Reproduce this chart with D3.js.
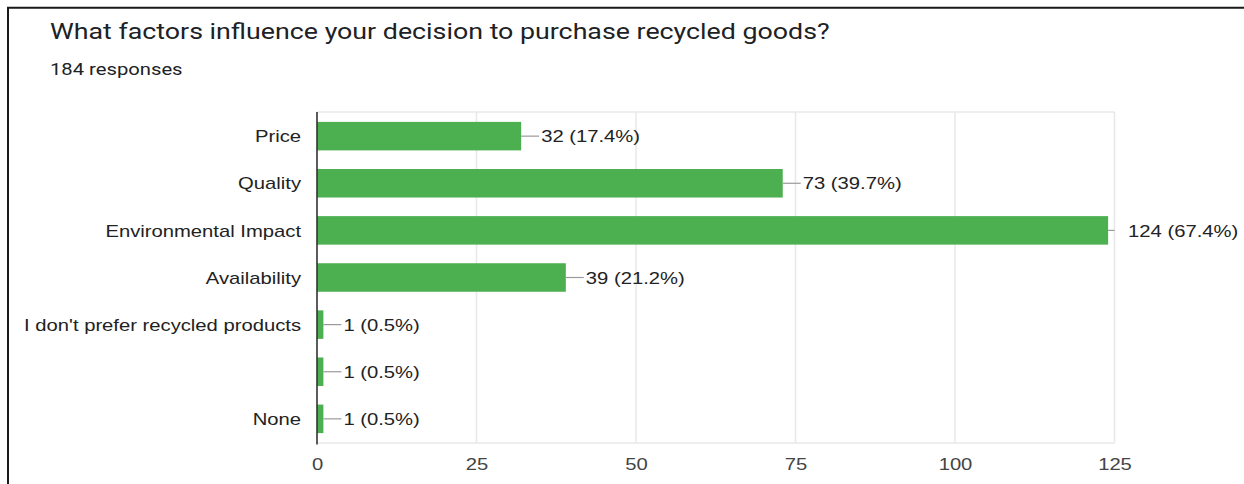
<!DOCTYPE html>
<html>
<head>
<meta charset="utf-8">
<script src="https://cdn.jsdelivr.net/npm/d3@7"></script>
<style>
  html, body { margin: 0; padding: 0; background: #fff; }
  svg { display: block; }
</style>
</head>
<body>
<svg id="chart" width="1244" height="484"></svg>
<script>
// Survey question and answers
const titleText = "What factors influence your decision to purchase recycled goods?";
const responsesText = "184 responses";
const totalResponses = 184;
const categories = [
  "Price",
  "Quality",
  "Environmental Impact",
  "Availability",
  "I don't prefer recycled products",
  "",
  "None"
];
const counts = [32, 73, 124, 39, 1, 1, 1];
const xTicks = [0, 25, 50, 75, 100, 125];

// Layout and styles
const W = 1244, H = 484;
const plot = { left: 317, right: 1114.5, top: 112, bottom: 443 };
const stretch = 1.19;               // horizontal widening of all lettering
const barColor = "#4caf50";
const gridColor = "#e8e8e8";
const chartFont = "Arial, 'Liberation Sans', sans-serif";
const titleFont = "Roboto, 'Liberation Sans', sans-serif";

const svg = d3.select("#chart");

// Outer frame (top and left edges)
svg.append("path")
  .attr("d", `M8,${H} V7.7 H${W}`)
  .attr("fill", "none")
  .attr("stroke", "#1a1a1a")
  .attr("stroke-width", 2);

// Stretched text helper
function stretchedText(g, x, y, str) {
  return g.append("text")
    .attr("transform", `translate(${x},${y}) scale(${stretch},1)`)
    .text(str);
}

// Title and response count
stretchedText(svg, 50, 39, titleText)
  .attr("font-family", titleFont)
  .attr("font-size", 22.5)
  .attr("fill", "#202124");
stretchedText(svg, 50, 75, responsesText)
  .attr("font-family", titleFont)
  .attr("font-size", 17)
  .attr("fill", "#202124");

// Scales
const x = d3.scaleLinear().domain([0, 125]).range([plot.left, plot.right]);
const y = d3.scaleBand()
  .domain(categories.map((_, i) => i))
  .range([plot.top, plot.bottom])
  .paddingInner(0.395)
  .paddingOuter(0.21);

// Gridlines
const grid = svg.append("g");
grid.selectAll("line.v")
  .data(xTicks.filter(t => t > 0))
  .join("line")
  .attr("class", "v")
  .attr("x1", d => x(d)).attr("x2", d => x(d))
  .attr("y1", plot.top).attr("y2", plot.bottom)
  .attr("stroke", gridColor).attr("stroke-width", 1.5);
grid.selectAll("line.h")
  .data([plot.top, plot.bottom])
  .join("line")
  .attr("class", "h")
  .attr("x1", plot.left).attr("x2", plot.right)
  .attr("y1", d => d).attr("y2", d => d)
  .attr("stroke", gridColor).attr("stroke-width", 1.5);

// Bars
svg.append("g").selectAll("rect")
  .data(counts)
  .join("rect")
  .attr("x", x(0))
  .attr("y", (d, i) => y(i))
  .attr("width", d => x(d) - x(0))
  .attr("height", y.bandwidth())
  .attr("fill", barColor);

// Value annotations with stems
const ann = svg.append("g");
counts.forEach((d, i) => {
  const x0 = x(d);
  const cy = y(i) + y.bandwidth() / 2;
  const stemEnd = Math.min(x0 + 18, plot.right);
  ann.append("line")
    .attr("x1", x0).attr("x2", stemEnd)
    .attr("y1", cy).attr("y2", cy)
    .attr("stroke", "#9a9a9a").attr("stroke-width", 1.2);
  const pct = (d / totalResponses * 100).toFixed(1);
  stretchedText(ann, x0 + 20, cy, `${d} (${pct}%)`)
    .attr("dy", "0.36em")
    .attr("font-family", chartFont)
    .attr("font-size", 17)
    .attr("fill", "#222");
});

// Category axis
const yAxis = svg.append("g")
  .attr("transform", `translate(${plot.left},0)`)
  .call(d3.axisLeft(y).tickSize(0).tickFormat(i => categories[i]));
yAxis.select(".domain").remove();
yAxis.selectAll("text")
  .attr("x", 0)
  .attr("dy", "0.36em")
  .attr("transform", `translate(-16,0) scale(${stretch},1)`)
  .attr("font-family", chartFont)
  .attr("font-size", 17)
  .attr("fill", "#222");

// Baseline axis line at zero
svg.append("line")
  .attr("x1", x(0)).attr("x2", x(0))
  .attr("y1", plot.top).attr("y2", plot.bottom + 1.5)
  .attr("stroke", "#333").attr("stroke-width", 1.6);

// Value axis labels, centred on their ticks under the horizontal stretch
const xAxis = svg.append("g")
  .attr("transform", `translate(0,${plot.bottom})`)
  .call(d3.axisBottom(x).tickValues(xTicks).tickSize(0).tickPadding(15));
xAxis.select(".domain").remove();
xAxis.selectAll("text")
  .attr("transform", `scale(${stretch},1)`)
  .attr("font-family", chartFont)
  .attr("font-size", 17)
  .attr("fill", "#444");
</script>
</body>
</html>
